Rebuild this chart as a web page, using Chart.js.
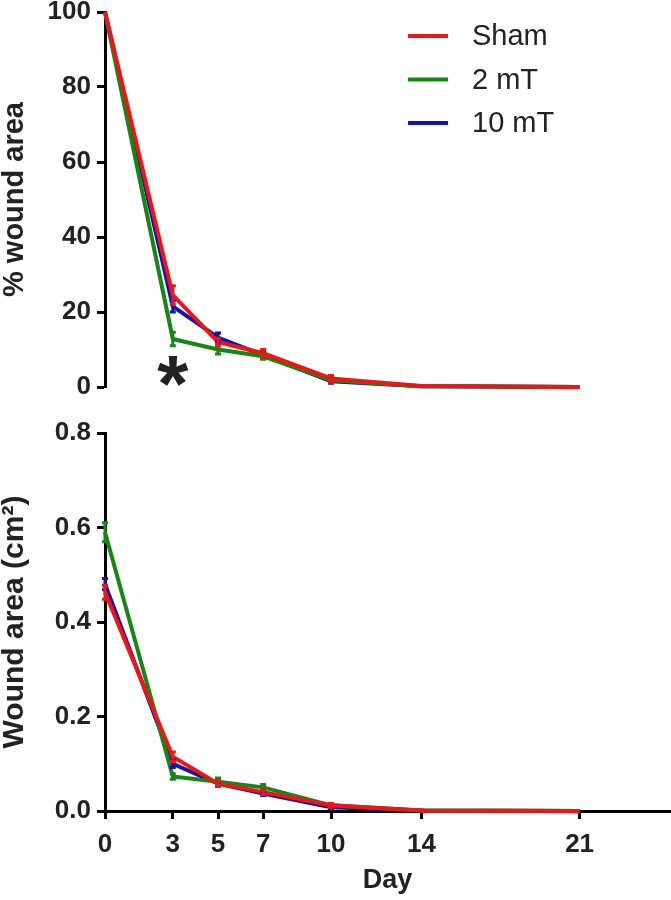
<!DOCTYPE html>
<html>
<head>
<meta charset="utf-8">
<script src="https://cdn.jsdelivr.net/npm/chart.js@4.4.1/dist/chart.umd.min.js"></script>
<style>
  body { margin: 0; background: #fff; }
  .wrap { position: absolute; left: 0; width: 671px; }
</style>
</head>
<body>
<div class="wrap" style="top:0;height:400px"><canvas id="pctChart" width="671" height="400"></canvas></div>
<div class="wrap" style="top:400px;height:500px"><canvas id="areaChart" width="671" height="500"></canvas></div>
<script>
const days = [0, 3, 5, 7, 10, 14, 21];
const dayTicks = [0, 3, 5, 7, 10, 14, 21];
const groups = ['Sham', '2 mT', '10 mT'];

// % wound area
const pctSham = [100, 24.5, 12, 9, 2.3, 0.3, 0];
const pct2mT = [100, 12.8, 10, 8.2, 1.8, 0.2, 0];
const pct10mT = [100, 21.5, 13.2, 8.5, 1.5, 0.2, 0];
const pctShamErr = [0, 2.5, 1, 1, 0.8, 0.1, 0];
const pct2mTErr = [0, 1.8, 1.2, 0.8, 0.5, 0, 0];
const pct10mTErr = [0, 1.5, 1.2, 0.8, 0.5, 0, 0];
const pctTicks = [0, 20, 40, 60, 80, 100];

// wound area cm2
const areaSham = [0.463, 0.115, 0.058, 0.04, 0.012, 0.001, 0];
const area2mT = [0.59, 0.073, 0.062, 0.05, 0.012, 0.001, 0];
const area10mT = [0.48, 0.1, 0.058, 0.037, 0.008, 0.001, 0];
const areaShamErr = [0.015, 0.01, 0.006, 0.005, 0.004, 0.001, 0];
const area2mTErr = [0.02, 0.006, 0.008, 0.006, 0.003, 0, 0];
const area10mTErr = [0.012, 0.008, 0.005, 0.004, 0.003, 0, 0];
const areaTicks = [0, 0.2, 0.4, 0.6, 0.8];

const colors = ['rgb(242,20,20)', 'rgb(22,135,22)', 'rgb(20,20,172)'];
const txt = '#222';
const FONT = 'Liberation Sans, Arial, sans-serif';

function series(vals, errs) {
    return vals.map((v, i) => ({
        label: groups[i],
        data: days.map((d, j) => ({x: d, y: v[j]})),
        err: errs[i],
        borderColor: colors[i],
        backgroundColor: colors[i],
        borderWidth: 4,
        pointRadius: 0,
        tension: 0,
        clip: false
    }));
}

//error bars drawn through the scales
const errorBars = {
    id: 'errorBars',
    afterDatasetsDraw(chart) {
        const ctx = chart.ctx;
        const xs = chart.scales.x, ys = chart.scales.y;
        ctx.save();
        for (let i = chart.data.datasets.length - 1; i >= 0; i--) {
            const ds = chart.data.datasets[i];
            ctx.strokeStyle = ds.borderColor;
            ctx.lineWidth = 3;
            ds.data.forEach((p, j) => {
                const e = ds.err[j];
                if (!e) return;
                const x = xs.getPixelForValue(p.x);
                const y1 = ys.getPixelForValue(p.y - e);
                const y2 = ys.getPixelForValue(p.y + e);
                ctx.beginPath();
                ctx.moveTo(x, y1); ctx.lineTo(x, y2);
                ctx.moveTo(x - 3, y1); ctx.lineTo(x + 3, y1);
                ctx.moveTo(x - 3, y2); ctx.lineTo(x + 3, y2);
                ctx.stroke();
            });
        }
        ctx.restore();
    }
};

const topExtras = {
    id: 'topExtras',
    afterDraw(chart) {
        const ctx = chart.ctx;
        ctx.save();
        // legend
        groups.forEach((g, i) => {
            const y = 36 + i * 43.5;
            ctx.strokeStyle = colors[i];
            ctx.lineWidth = 4;
            ctx.beginPath();
            ctx.moveTo(408, y); ctx.lineTo(448, y);
            ctx.stroke();
            ctx.fillStyle = txt;
            ctx.font = '29px ' + FONT;
            ctx.textBaseline = 'middle';
            ctx.textAlign = 'left';
            ctx.fillText(g, 472, y + 1);
        });
        // significance mark at day 3, centred on its glyph box
        const x = chart.scales.x.getPixelForValue(3);
        const y = chart.scales.y.getPixelForValue(4.2);
        ctx.font = 'bold 80px ' + FONT;
        ctx.textAlign = 'center';
        ctx.textBaseline = 'alphabetic';
        const m = ctx.measureText('*');
        ctx.fillText('*', x, y + (m.actualBoundingBoxAscent - m.actualBoundingBoxDescent) / 2);
        ctx.restore();
    }
};

const bottomExtras = {
    id: 'bottomExtras',
    afterDraw(chart) {
        const ctx = chart.ctx;
        const a = chart.chartArea;
        ctx.save();
        ctx.fillStyle = txt;
        ctx.font = 'bold 27px ' + FONT;
        ctx.textAlign = 'center';
        ctx.textBaseline = 'alphabetic';
        ctx.fillText('Day', (a.left + a.right) / 2, 488);
        ctx.restore();
    }
};

function yAxis(ticks, title, size, fmt) {
    return {
        type: 'linear',
        min: ticks[0],
        max: ticks[ticks.length - 1],
        afterBuildTicks: s => { s.ticks = ticks.map(v => ({value: v})); },
        afterFit: s => { s.width = 105; s.paddingTop = 0; s.paddingBottom = 0; },
        border: {width: 3, color: '#000'},
        grid: {drawOnChartArea: false, drawTicks: true, tickLength: 8, tickWidth: 3, tickColor: '#000'},
        ticks: {color: txt, padding: 6, font: {family: FONT, size: 26, weight: 'bold'}, callback: fmt},
        title: {display: true, text: title, color: txt, padding: 0,
            font: {family: FONT, size: size, weight: 'bold', lineHeight: 1}}
    };
}

const baseOpts = {
    responsive: false,
    animation: false,
    plugins: {legend: {display: false}, tooltip: {enabled: false}}
};

new Chart(document.getElementById('pctChart'), {
    type: 'line',
    data: {datasets: series([pctSham, pct2mT, pct10mT], [pctShamErr, pct2mTErr, pct10mTErr])},
    options: {
        ...baseOpts,
        layout: {padding: {top: 12, right: 1, bottom: 13, left: 0}},
        scales: {
            x: {type: 'linear', min: 0, max: 25, display: false},
            y: yAxis(pctTicks, '% wound area', 29, v => v)
        }
    },
    plugins: [errorBars, topExtras]
});

new Chart(document.getElementById('areaChart'), {
    type: 'line',
    data: {datasets: series([areaSham, area2mT, area10mT], [areaShamErr, area2mTErr, area10mTErr])},
    options: {
        ...baseOpts,
        layout: {padding: {top: 33, right: 1, bottom: 0, left: 0}},
        scales: {
            x: {
                type: 'linear', min: 0, max: 25,
                afterBuildTicks: s => { s.ticks = dayTicks.map(v => ({value: v})); },
                afterFit: s => { s.height = 89; },
                border: {width: 3, color: '#000'},
                grid: {drawOnChartArea: false, drawTicks: true, tickLength: 8, tickWidth: 3, tickColor: '#000'},
                ticks: {color: txt, padding: 10, maxRotation: 0, font: {family: FONT, size: 26, weight: 'bold'}}
            },
            y: yAxis(areaTicks, 'Wound area (cm²)', 30, v => v.toFixed(1))
        }
    },
    plugins: [errorBars, bottomExtras]
});
</script>
</body>
</html>
